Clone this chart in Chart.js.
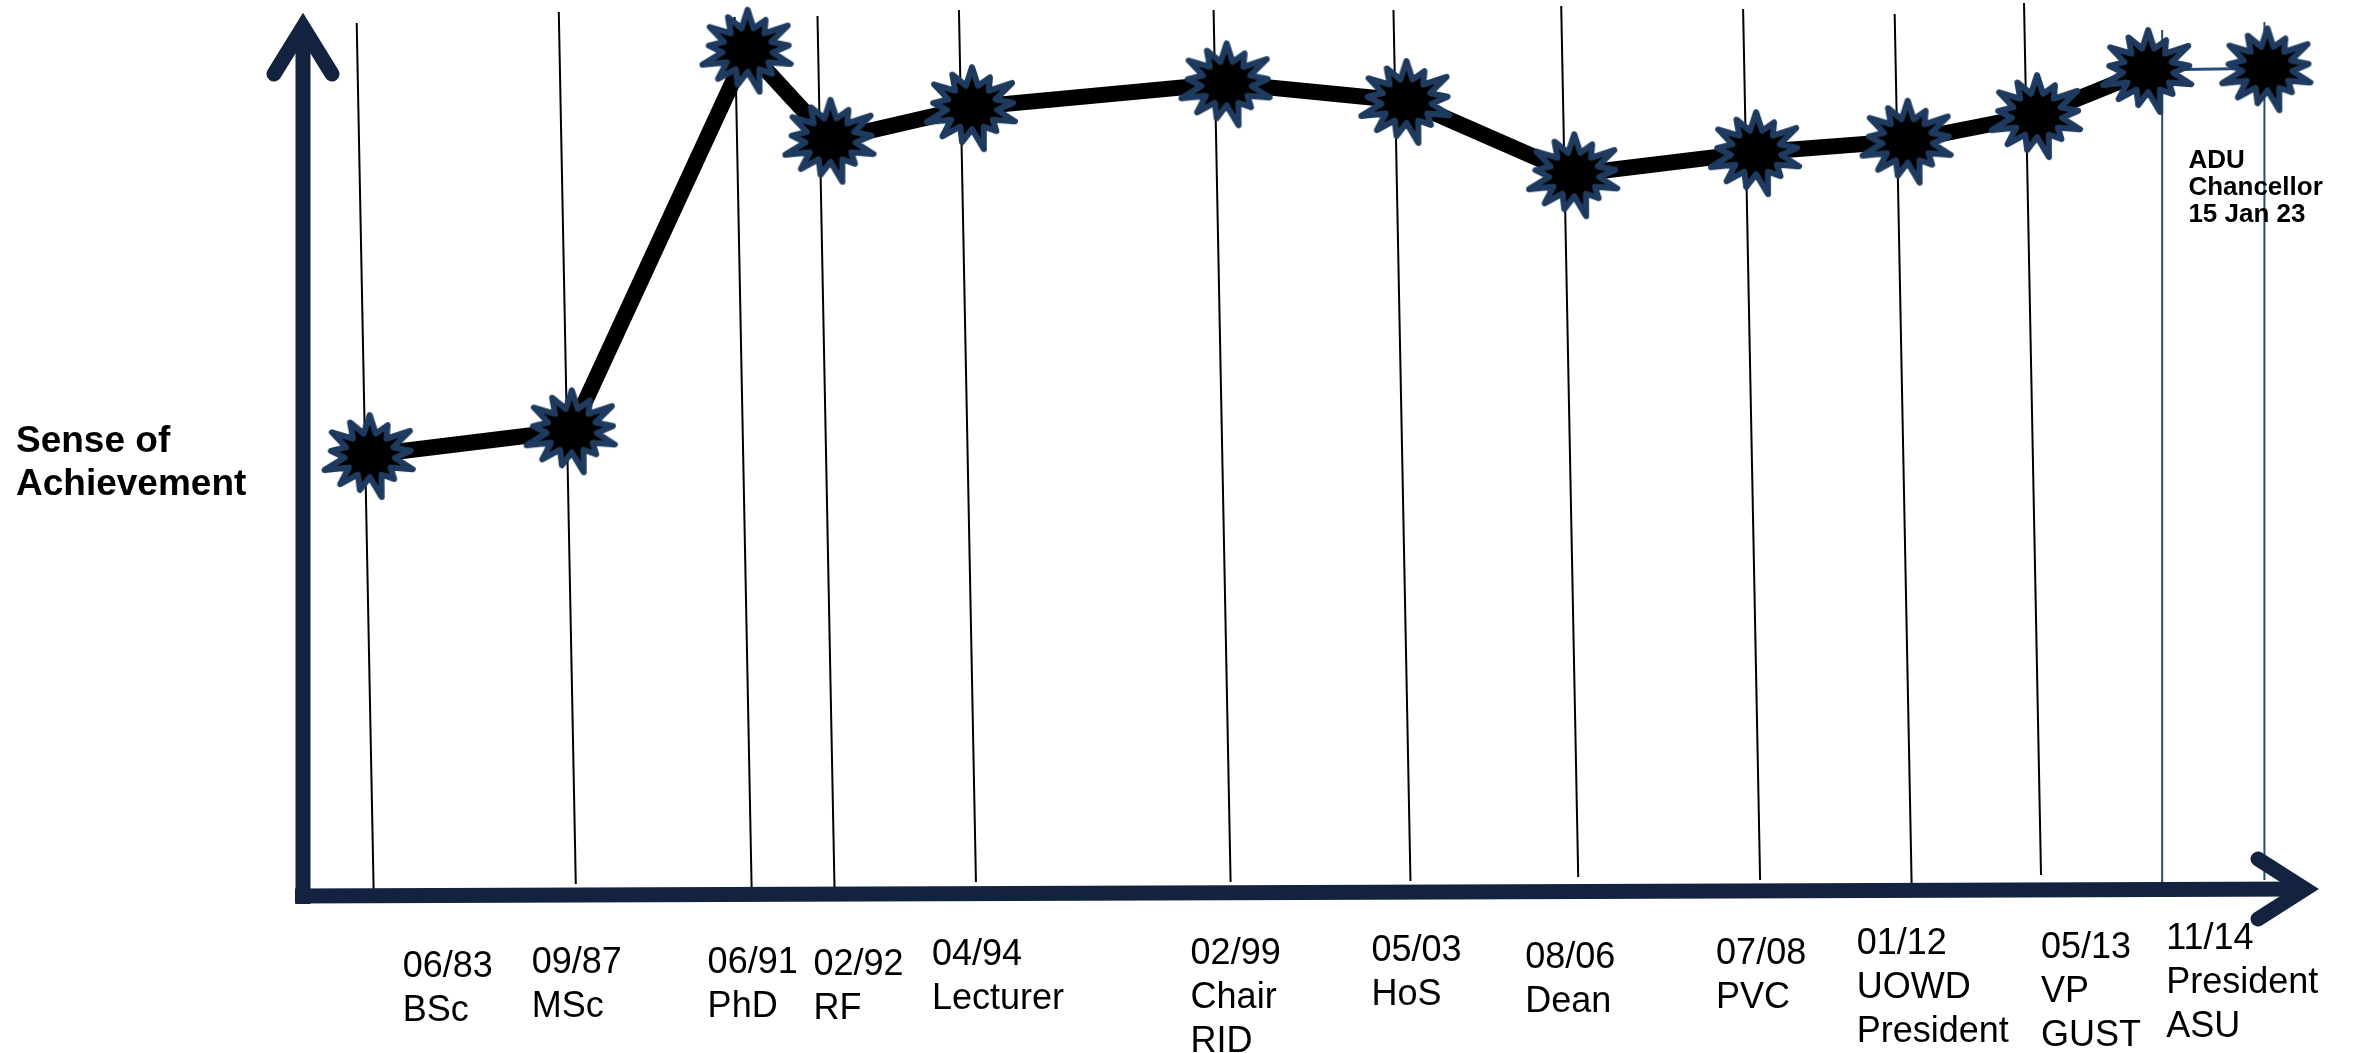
<!DOCTYPE html>
<html>
<head>
<meta charset="utf-8">
<script src="https://cdn.jsdelivr.net/npm/chart.js@4.4.1/dist/chart.umd.min.js"></script>
<style>
  html, body { margin: 0; padding: 0; background: #ffffff; }
  #careerChart { display: block; }
</style>
</head>
<body>
<canvas id="careerChart" width="2361" height="1053"></canvas>
<script>
// career timeline - sense of achievement
const dateLabels = ["06/83", "09/87", "06/91", "02/92", "04/94", "02/99", "05/03", "08/06", "07/08", "01/12", "05/13", "11/14", "15 Jan 23"];
const roleLabels = [["BSc"], ["MSc"], ["PhD"], ["RF"], ["Lecturer"], ["Chair", "RID"], ["HoS"], ["Dean"], ["PVC"], ["UOWD", "President"], ["VP", "GUST"], ["President", "ASU"], ["ADU", "Chancellor"]];
const timelinePos = [3.3, 13.3, 22.0, 26.1, 33.1, 45.7, 54.6, 62.9, 71.9, 79.4, 85.8, 91.3, 97.2];
const achievement = [49.6, 52.4, 95.5, 85.3, 89.0, 91.7, 89.7, 81.4, 83.9, 85.2, 88.1, 93.2, 93.4];
const axisTitle = ["Sense of", "Achievement"];

// layout only (text nudges and guide line ends)
const labelShift = [33, -40, -40, -17, -40, -36, -35, -49, -40, -51, 4, 18];
const labelDrop = [84, 80, 80, 82, 72, 71, 68, 75, 71, 61, 65, 56];
const guideTop = [23, 12, 17, 16, 10, 10, 10, 6, 9, 14, 3, 30, 22];
const guideBottom = [893, 884, 888, 887, 882, 882, 881, 877, 880, 886, 875, 890, 880];

const NAVY = "#13223f";
const STAR_EDGE = "#1e3a5f";
const GUIDE_NAVY = "#2b4a7a";

function makeBurst(rx, ry) {
  const c = document.createElement("canvas");
  const w = Math.ceil(rx * 2 + 12);
  const h = Math.ceil(ry * 2 + 12);
  c.width = w;
  c.height = h;
  const g = c.getContext("2d");
  const spikes = 13;
  const jitter = [1, 0.84, 1.06, 0.9, 1, 0.8, 1.08, 0.9, 0.97, 1.05, 0.85, 1, 0.92];
  g.translate(w / 2, h / 2);
  g.beginPath();
  for (let i = 0; i < spikes * 2; i++) {
    const a = (i * Math.PI) / spikes - Math.PI / 2;
    const k = i % 2 === 0 ? jitter[i / 2] : 0.55;
    const px = Math.cos(a) * rx * k;
    const py = Math.sin(a) * ry * k;
    if (i === 0) g.moveTo(px, py);
    else g.lineTo(px, py);
  }
  g.closePath();
  g.fillStyle = "#000000";
  g.fill();
  g.lineWidth = 6;
  g.lineJoin = "round";
  g.strokeStyle = STAR_EDGE;
  g.stroke();
  return c;
}

const burst = makeBurst(46, 40);

const guidesPlugin = {
  id: "guides",
  beforeDatasetsDraw(chart) {
    const { ctx, scales } = chart;
    ctx.save();
    timelinePos.forEach((v, i) => {
      const x = scales.x.getPixelForValue(v);
      ctx.beginPath();
      if (i >= 11) {
        const nudge = i === 11 ? 14 : -3;
        ctx.strokeStyle = GUIDE_NAVY;
        ctx.lineWidth = 2;
        ctx.moveTo(x + nudge, guideTop[i]);
        ctx.lineTo(x + nudge, guideBottom[i]);
      } else {
        ctx.strokeStyle = "#000000";
        ctx.lineWidth = 2;
        ctx.moveTo(x - 13, guideTop[i]);
        ctx.lineTo(x + 4, guideBottom[i]);
      }
      ctx.stroke();
    });
    ctx.restore();
  },
};

const axesPlugin = {
  id: "arrowAxes",
  afterDatasetsDraw(chart) {
    const { ctx, chartArea } = chart;
    const L = chartArea.left;
    const B = chartArea.bottom;
    const R = chartArea.right;
    const T = chartArea.top;
    ctx.save();
    ctx.strokeStyle = NAVY;
    ctx.lineWidth = 15;
    // y axis shaft
    ctx.lineCap = "butt";
    ctx.beginPath();
    ctx.moveTo(L, B + 11);
    ctx.lineTo(L, T + 19);
    ctx.stroke();
    // x axis shaft (slightly tilted like the hand drawing)
    ctx.beginPath();
    ctx.moveTo(L - 8, B + 3);
    ctx.lineTo(R - 19, B - 4);
    ctx.stroke();
    // arrow heads
    ctx.lineCap = "round";
    ctx.lineJoin = "miter";
    ctx.beginPath();
    ctx.moveTo(L - 29, T + 64);
    ctx.lineTo(L, T + 17);
    ctx.lineTo(L + 29, T + 64);
    ctx.stroke();
    ctx.beginPath();
    ctx.moveTo(R - 66, B - 34);
    ctx.lineTo(R - 19, B - 4);
    ctx.lineTo(R - 66, B + 26);
    ctx.stroke();
    ctx.restore();
  },
};

const textPlugin = {
  id: "timelineText",
  afterDraw(chart) {
    const { ctx, scales, chartArea } = chart;
    ctx.save();
    ctx.fillStyle = "#000000";
    ctx.textBaseline = "alphabetic";
    ctx.textAlign = "left";
    ctx.font = "36px 'Liberation Sans', Arial, sans-serif";
    for (let i = 0; i < 12; i++) {
      const x = scales.x.getPixelForValue(timelinePos[i]) + labelShift[i];
      let y = chartArea.bottom + labelDrop[i];
      [dateLabels[i]].concat(roleLabels[i]).forEach((t) => {
        ctx.fillText(t, x, y);
        y += 44;
      });
    }
    // last milestone note
    const last = timelinePos.length - 1;
    const nx = scales.x.getPixelForValue(timelinePos[last]) - 79;
    ctx.font = "bold 26px 'Liberation Sans', Arial, sans-serif";
    roleLabels[last].concat([dateLabels[last]]).forEach((t, k) => {
      ctx.fillText(t, nx, 168 + k * 27);
    });
    // axis title
    ctx.font = "bold 37px 'Liberation Sans', Arial, sans-serif";
    ctx.fillText(axisTitle[0], 16, 452);
    ctx.fillText(axisTitle[1], 16, 495);
    ctx.restore();
  },
};

const last = timelinePos.length - 1;

new Chart(document.getElementById("careerChart"), {
  type: "line",
  data: {
    datasets: [
      {
        label: "Sense of Achievement",
        data: timelinePos.map((x, i) => ({ x: x, y: achievement[i] })),
        borderColor: "#000000",
        borderWidth: 16,
        borderJoinStyle: "miter",
        borderCapStyle: "butt",
        tension: 0,
        fill: false,
        clip: false,
        pointStyle: burst,
        pointRadius: 44,
        pointHoverRadius: 44,
        segment: {
          borderColor: (c) => (c.p1DataIndex === last ? GUIDE_NAVY : undefined),
          borderWidth: (c) => (c.p1DataIndex === last ? 3 : undefined),
        },
      },
    ],
  },
  options: {
    responsive: false,
    devicePixelRatio: 1,
    animation: false,
    events: [],
    layout: {
      autoPadding: false,
      padding: { left: 303, right: 37, top: 10, bottom: 160 },
    },
    scales: {
      x: { type: "linear", min: 0, max: 100, display: false },
      y: { type: "linear", min: 0, max: 100, display: false },
    },
    plugins: {
      legend: { display: false },
      tooltip: { enabled: false },
    },
  },
  plugins: [guidesPlugin, axesPlugin, textPlugin],
});
</script>
</body>
</html>
